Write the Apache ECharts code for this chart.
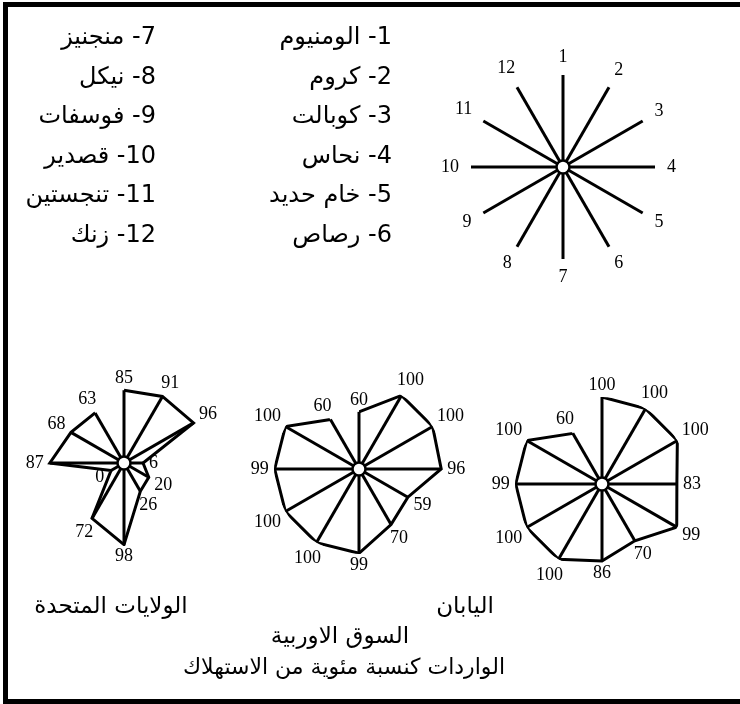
<!DOCTYPE html>
<html><head><meta charset="utf-8">
<script src="https://cdn.jsdelivr.net/npm/echarts/dist/echarts.min.js"></script>
<style>html,body{margin:0;padding:0;background:#fff}#chart{width:740px;height:704px}</style>
</head><body><div id="chart"></div>
<script>
// ---- data ----
const spokeLabels = ['1','2','3','4','5','6','7','8','9','10','11','12'];
const mineralNames = ['الومنيوم','كروم','كوبالت','نحاس','خام حديد','رصاص','منجنيز','نيكل','فوسفات','قصدير','تنجستين','زنك'];
const usaValues    = [85, 91, 96, 6, 20, 26, 98, 72, 0, 87, 68, 63];
const europeValues = [60, 100, 100, 96, 59, 70, 99, 100, 100, 99, 100, 60];
const japanValues  = [100, 100, 100, 83, 99, 70, 86, 100, 100, 99, 100, 60];
const countryNames = ['الولايات المتحدة', 'السوق الاوربية', 'اليابان'];
const chartTitle = 'الواردات كنسبة مئوية من الاستهلاك';

// ---- styles / layout ----
const NUM_FONT = '"Liberation Serif", "DejaVu Serif", serif';
const AR_FONT = '"DejaVu Sans", sans-serif';
const RMIN = -22, RMAX = 100;
const panels = [
  {values: usaValues,    center: [124, 463], radius: 83, name: countryNames[0], tx: 111, ty: 607},
  {values: europeValues, center: [359, 469], radius: 85, name: countryNames[1], tx: 340, ty: 637},
  {values: japanValues,  center: [602, 484], radius: 87, name: countryNames[2], tx: 465, ty: 607}
];
const keyPanel = {center: [563, 167], radius: 92};

const polar = [], angleAxis = [], radiusAxis = [], series = [];
function addPolar(center, radius, min, max) {
  const idx = polar.length;
  polar.push({center: center, radius: [0, radius]});
  angleAxis.push({polarIndex: idx, type: 'category', data: spokeLabels, startAngle: 90,
    clockwise: true, boundaryGap: false, show: false});
  radiusAxis.push({polarIndex: idx, type: 'value', min: min, max: max, show: false});
  return idx;
}
function spokeRenderer(min, max, gap, labelOf, toMax) {
  return function (params, api) {
    const a = api.value(1);
    const v = toMax ? max : api.value(0);
    const c = api.coord([min, a]);
    const p = api.coord([v, a]);
    const f = api.coord([max, a]);
    const dx = f[0] - c[0], dy = f[1] - c[1];
    const L = Math.hypot(dx, dy) || 1;
    const ux = dx / L, uy = dy / L;
    const txt = labelOf(params.dataIndex);
    const w = txt.length * 9, h = 12;
    const d = gap + Math.abs(ux) * w / 2 + Math.abs(uy) * h / 2;
    return {type: 'group', children: [
      {type: 'line', shape: {x1: c[0], y1: c[1], x2: p[0], y2: p[1]},
       style: {stroke: '#000', lineWidth: 3}},
      {type: 'text', x: p[0] + ux * d, y: p[1] + uy * d,
       style: {text: txt, align: 'center', verticalAlign: 'middle',
               font: '18px ' + NUM_FONT, fill: '#000'}}
    ]};
  };
}
function centerDot(idx, min) {
  return {type: 'scatter', coordinateSystem: 'polar', polarIndex: idx,
    data: [[min, 0]], symbol: 'circle', symbolSize: 13, z: 10, silent: true,
    itemStyle: {color: '#fff', opacity: 1, borderColor: '#000', borderWidth: 2.5}};
}

// key diagram
const kIdx = addPolar(keyPanel.center, keyPanel.radius, 0, 100);
series.push({type: 'custom', coordinateSystem: 'polar', polarIndex: kIdx, silent: true,
  data: spokeLabels.map((s, i) => [100, i]), encode: {radius: 0, angle: 1},
  renderItem: spokeRenderer(0, 100, 12, i => spokeLabels[i], true)});
series.push(centerDot(kIdx, 0));

// three country diagrams
const graphics = [];
panels.forEach(pn => {
  const idx = addPolar(pn.center, pn.radius, RMIN, RMAX);
  const pts = pn.values.map((v, i) => [v, i]);
  series.push({type: 'line', coordinateSystem: 'polar', polarIndex: idx, silent: true,
    data: pts.concat([pts[0]]), symbol: 'none', z: 3,
    lineStyle: {color: '#000', width: 3, join: 'miter'}});
  series.push({type: 'custom', coordinateSystem: 'polar', polarIndex: idx, silent: true,
    data: pts, encode: {radius: 0, angle: 1}, z: 4,
    renderItem: spokeRenderer(RMIN, RMAX, 6, i => String(pn.values[i]), false)});
  series.push(centerDot(idx, RMIN));
  graphics.push({type: 'text', x: pn.tx, y: pn.ty,
    style: {text: pn.name, align: 'center', verticalAlign: 'middle', font: '23px ' + AR_FONT, fill: '#000'}});
});

// legend of minerals (two columns, RTL)
mineralNames.forEach((nm, i) => {
  const col = i < 6 ? 0 : 1, row = i % 6;
  graphics.push({type: 'text', x: col === 0 ? 392 : 156, y: 38 + row * 39.5,
    style: {text: '\u202B' + (i + 1) + '- ' + nm + '\u202C', align: 'right', verticalAlign: 'middle',
            font: '24px ' + AR_FONT, fill: '#000'}});
});
graphics.push({type: 'text', x: 344, y: 668,
  style: {text: chartTitle, align: 'center', verticalAlign: 'middle', font: '22px ' + AR_FONT, fill: '#000'}});
// frame
graphics.push({type: 'rect', shape: {x: 3, y: 2, width: 737, height: 5}, style: {fill: '#000'}});
graphics.push({type: 'rect', shape: {x: 3, y: 2, width: 5, height: 702}, style: {fill: '#000'}});
graphics.push({type: 'rect', shape: {x: 3, y: 699, width: 737, height: 5}, style: {fill: '#000'}});

const chart = echarts.init(document.getElementById('chart'), null, {renderer: 'canvas'});
chart.setOption({
  animation: false,
  backgroundColor: '#fff',
  polar: polar, angleAxis: angleAxis, radiusAxis: radiusAxis,
  series: series,
  graphic: graphics
});
</script></body></html>
